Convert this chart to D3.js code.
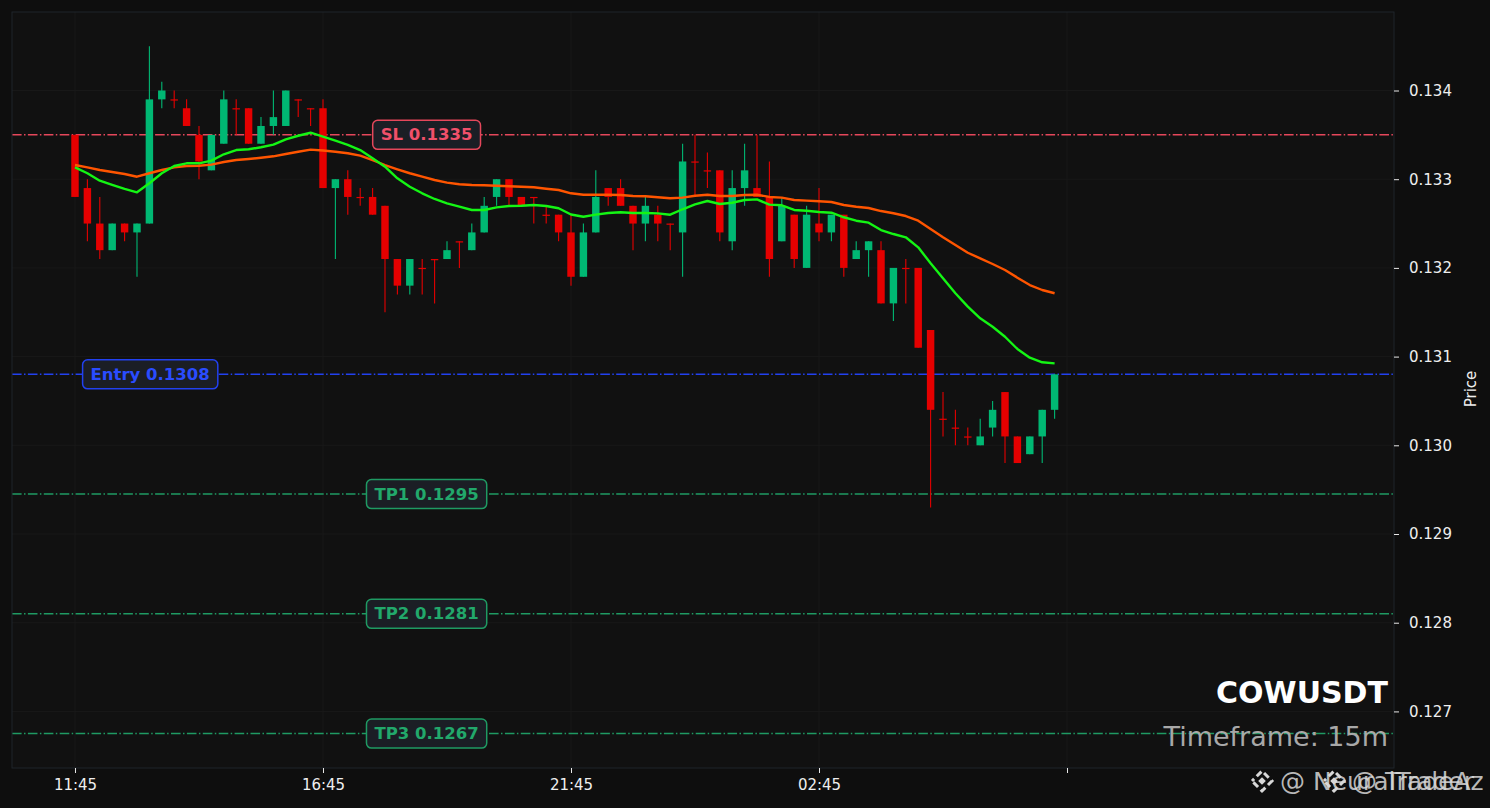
<!DOCTYPE html>
<html><head><meta charset="utf-8">
<script src="https://cdn.jsdelivr.net/npm/d3@7"></script>
<style>html,body{margin:0;padding:0;background:#0e0e0e;overflow:hidden}</style>
</head><body><svg id="c" width="1490" height="808"></svg>
<script>
// ---- data ----
const opens  = [0.1335,0.1329,0.1325,0.1322,0.1325,0.1324,0.1325,0.1339,0.1339,0.1338,0.1335,0.1331,0.1334,0.1338,0.1338,0.1334,0.1336,0.1336,0.1339,0.1338,
                0.1338,0.1329,0.1330,0.1328,0.1328,0.1327,0.1321,0.1318,0.1320,0.1321,0.1321,0.1323,0.1322,0.1324,0.1328,0.1330,0.1328,0.1328,0.1326,0.1326,
                0.1324,0.1319,0.1324,0.1329,0.1329,0.1327,0.1325,0.1326,0.1325,0.1324,0.1332,0.1331,0.1331,0.1323,0.1329,0.1329,0.1328,0.1323,0.1326,0.1320,
                0.1325,0.1324,0.1326,0.1321,0.1322,0.1322,0.1316,0.1320,0.1320,0.1313,0.1303,0.1302,0.1301,0.1300,0.1302,0.1306,0.1301,0.1299,0.1301,0.1304];
const highs  = [0.1335,0.1330,0.1328,0.1325,0.1325,0.1325,0.1345,0.1341,0.1340,0.1339,0.1336,0.1335,0.1340,0.1339,0.1338,0.1337,0.1340,0.1340,0.1339,0.1338,
                0.1339,0.1330,0.1331,0.1329,0.1329,0.1327,0.1321,0.1321,0.1321,0.1321,0.1323,0.1323,0.1325,0.1328,0.1330,0.1330,0.1328,0.1328,0.1327,0.1326,
                0.1326,0.1325,0.1331,0.1329,0.1330,0.1327,0.1328,0.1327,0.1325,0.1334,0.1335,0.1333,0.1331,0.1331,0.1334,0.1335,0.1332,0.1328,0.1326,0.1327,
                0.1329,0.1326,0.1326,0.1323,0.1323,0.1323,0.1320,0.1321,0.1320,0.1313,0.1306,0.1304,0.1302,0.1303,0.1305,0.1306,0.1301,0.1301,0.1304,0.1308];
const lows   = [0.1328,0.1323,0.1321,0.1322,0.1323,0.1319,0.1325,0.1338,0.1338,0.1336,0.1330,0.1331,0.1334,0.1335,0.1334,0.1334,0.1335,0.1336,0.1337,0.1336,
                0.1329,0.1321,0.1326,0.1327,0.1326,0.1315,0.1317,0.1317,0.1317,0.1316,0.1321,0.1320,0.1322,0.1324,0.1327,0.1327,0.1327,0.1325,0.1325,0.1323,
                0.1318,0.1319,0.1324,0.1327,0.1327,0.1322,0.1323,0.1323,0.1322,0.1319,0.1328,0.1329,0.1323,0.1322,0.1327,0.1328,0.1319,0.1323,0.1320,0.1320,
                0.1323,0.1323,0.1319,0.1321,0.1319,0.1316,0.1314,0.1316,0.1311,0.1293,0.1301,0.1300,0.1300,0.1300,0.1301,0.1298,0.1298,0.1299,0.1298,0.1303];
const closes = [0.1328,0.1325,0.1322,0.1325,0.1324,0.1325,0.1339,0.1340,0.1339,0.1336,0.1332,0.1335,0.1339,0.1338,0.1334,0.1336,0.1337,0.1340,0.1339,0.1338,
                0.1329,0.1330,0.1328,0.1328,0.1326,0.1321,0.1318,0.1321,0.1320,0.1321,0.1322,0.1323,0.1324,0.1327,0.1330,0.1328,0.1327,0.1328,0.1326,0.1324,
                0.1319,0.1324,0.1328,0.1328,0.1327,0.1325,0.1327,0.1325,0.1325,0.1332,0.1332,0.1331,0.1324,0.1329,0.1331,0.1328,0.1321,0.1327,0.1321,0.1326,
                0.1324,0.1326,0.1320,0.1322,0.1323,0.1316,0.1320,0.1320,0.1311,0.1304,0.1303,0.1302,0.1301,0.1301,0.1304,0.1301,0.1298,0.1301,0.1304,0.1308];
const emaFast = [0.133134,0.133067,0.132983,0.132935,0.132890,0.132852,0.132954,0.133067,0.133149,0.133179,0.133179,0.133209,0.133281,0.133329,0.133337,0.133360,0.133389,0.133450,0.133490,0.133524,
                 0.133479,0.133434,0.133386,0.133329,0.133236,0.133141,0.133010,0.132915,0.132841,0.132777,0.132728,0.132690,0.132653,0.132653,0.132683,0.132698,0.132701,0.132709,0.132698,0.132672,
                 0.132602,0.132577,0.132600,0.132619,0.132627,0.132619,0.132619,0.132615,0.132600,0.132661,0.132717,0.132754,0.132720,0.132735,0.132766,0.132773,0.132713,0.132706,0.132653,0.132645,
                 0.132630,0.132622,0.132571,0.132532,0.132510,0.132427,0.132382,0.132345,0.132232,0.132052,0.131883,0.131714,0.131563,0.131432,0.131337,0.131224,0.131086,0.130988,0.130936,0.130924];
const emaSlow = [0.133160,0.133134,0.133104,0.133081,0.133059,0.133028,0.133067,0.133104,0.133134,0.133149,0.133152,0.133164,0.133194,0.133216,0.133228,0.133242,0.133258,0.133284,0.133310,0.133333,
                 0.133324,0.133310,0.133292,0.133265,0.133216,0.133160,0.133112,0.133067,0.133028,0.132991,0.132961,0.132943,0.132935,0.132931,0.132927,0.132920,0.132915,0.132909,0.132893,0.132878,
                 0.132841,0.132825,0.132825,0.132825,0.132822,0.132811,0.132807,0.132796,0.132785,0.132792,0.132814,0.132825,0.132811,0.132811,0.132822,0.132825,0.132800,0.132792,0.132766,0.132758,
                 0.132751,0.132743,0.132709,0.132690,0.132675,0.132641,0.132616,0.132585,0.132532,0.132439,0.132345,0.132258,0.132171,0.132108,0.132044,0.131976,0.131890,0.131807,0.131751,0.131714];
const xTickIdx    = [0, 20, 40, 60, 80];
const xTickLabels = ["11:45", "16:45", "21:45", "02:45", ""];
const yTicks      = [0.127, 0.128, 0.129, 0.130, 0.131, 0.132, 0.133, 0.134];
const levelValues = [0.1335, 0.1308, 0.12945, 0.1281, 0.12675];
const levelLabels = ["SL 0.1335", "Entry 0.1308", "TP1 0.1295", "TP2 0.1281", "TP3 0.1267"];
const levelColors = ["#e5475b", "#2241f0", "#1f9a63", "#1f9a63", "#1f9a63"];
const levelTextColors = ["#f0506a", "#2a4cff", "#22a86b", "#22a86b", "#22a86b"];
const levelLabelPos = [0.30, 0.10, 0.30, 0.30, 0.30];
const symbolText = "COWUSDT";
const timeframeText = "Timeframe: 15m";
const watermarks = ["@ NeuralTrader", "@ TradeAz"];

// ---- layout ----
const W = 1490, H = 808;
const L = 12, R = 1394, T = 12, B = 768;
const svg = d3.select("#c");
svg.append("rect").attr("width", W).attr("height", H).attr("fill", "#0e0e0e");
svg.append("rect").attr("x", L).attr("y", T).attr("width", R - L).attr("height", B - T).attr("fill", "#111111");

const x = d3.scaleLinear().domain([-5.08, 106.37]).range([L, R]);
const y = d3.scaleLinear().domain([0.126362, 0.134885]).range([B, T]);
const font = "DejaVu Sans";

// grid
const grid = svg.append("g");
grid.selectAll("line.h").data(yTicks).join("line")
  .attr("x1", L).attr("x2", R).attr("y1", d => y(d)).attr("y2", d => y(d))
  .attr("stroke", "#1b1b1b").attr("stroke-width", 0.8);
grid.selectAll("line.v").data(xTickIdx).join("line")
  .attr("y1", T).attr("y2", B).attr("x1", d => x(d)).attr("x2", d => x(d))
  .attr("stroke", "#1b1b1b").attr("stroke-width", 0.8);

// level lines
const dash = "9.6,2.4,1.5,2.4";
svg.append("g").selectAll("line").data(levelValues).join("line")
  .attr("x1", L).attr("x2", R).attr("y1", d => y(d)).attr("y2", d => y(d))
  .attr("stroke", (d, i) => levelColors[i]).attr("stroke-width", 1.5)
  .attr("stroke-dasharray", dash);

// candles
const idx = d3.range(closes.length);
const bw = (x(1) - x(0)) * 0.6;
const up = "#00b873", dn = "#e50000";
const col = i => closes[i] > opens[i] ? up : dn;
const cg = svg.append("g");
cg.selectAll("line").data(idx).join("line")
  .attr("x1", i => x(i)).attr("x2", i => x(i))
  .attr("y1", i => y(highs[i])).attr("y2", i => y(lows[i]))
  .attr("stroke", col).attr("stroke-width", 1.1);
cg.selectAll("rect").data(idx).join("rect")
  .attr("x", i => x(i) - bw / 2).attr("width", bw)
  .attr("y", i => y(Math.max(opens[i], closes[i])))
  .attr("height", i => Math.max(1.2, Math.abs(y(opens[i]) - y(closes[i]))))
  .attr("fill", col);

// EMAs
const line = arr => d3.line().x((d, i) => x(i)).y(d => y(d))(arr);
svg.append("path").attr("d", line(emaSlow)).attr("fill", "none").attr("stroke", "#ff5500").attr("stroke-width", 2.4).attr("stroke-linejoin", "round");
svg.append("path").attr("d", line(emaFast)).attr("fill", "none").attr("stroke", "#14f514").attr("stroke-width", 2.4).attr("stroke-linejoin", "round");

// level labels
levelValues.forEach((v, i) => {
  const g = svg.append("g");
  const cx = L + (R - L) * levelLabelPos[i];
  const cy = y(v);
  const t = g.append("text").attr("x", cx).attr("y", cy).attr("text-anchor", "middle")
    .attr("dominant-baseline", "central").attr("font-family", font).attr("font-weight", "bold")
    .attr("font-size", 16.5).attr("fill", levelTextColors[i]).text(levelLabels[i]);
  const w = t.node().getComputedTextLength();
  g.insert("rect", "text").attr("x", cx - w / 2 - 8).attr("y", cy - 14.5).attr("width", w + 16).attr("height", 29)
    .attr("rx", 5).attr("fill", "#1b1e25").attr("stroke", levelColors[i]).attr("stroke-width", 1.5);
});

// border
svg.append("rect").attr("x", L).attr("y", T).attr("width", R - L).attr("height", B - T)
  .attr("fill", "none").attr("stroke", "#1f242b").attr("stroke-width", 1);

// axes
const yAxis = svg.append("g").attr("transform", `translate(${R},0)`)
  .call(d3.axisRight(y).tickValues(yTicks).tickFormat(d3.format(".3f")).tickSize(5).tickPadding(10));
const xAxis = svg.append("g").attr("transform", `translate(0,${B})`)
  .call(d3.axisBottom(x).tickValues(xTickIdx).tickFormat((d, i) => xTickLabels[i]).tickSize(5).tickPadding(6));
[yAxis, xAxis].forEach(a => {
  a.select(".domain").remove();
  a.selectAll("line").attr("stroke", "#e8e8e8");
  a.selectAll("text").attr("fill", "#eeeeee").attr("font-family", font).attr("font-size", 15);
});

svg.append("text").attr("transform", `translate(1476,389) rotate(-90)`).attr("text-anchor", "middle")
  .attr("font-family", font).attr("font-size", 15).attr("fill", "#eeeeee").text("Price");

// symbol / timeframe
svg.append("text").attr("x", 1388).attr("y", 703).attr("text-anchor", "end")
  .attr("font-family", font).attr("font-weight", "bold").attr("font-size", 30).attr("fill", "#ffffff").text(symbolText);
svg.append("text").attr("x", 1388).attr("y", 746).attr("text-anchor", "end")
  .attr("font-family", font).attr("font-size", 27).attr("fill", "#a8a8a8").text(timeframeText);

// watermarks (diamond logo + handle)
function logo(cx, cy, s) {
  const g = svg.append("g").attr("transform", `translate(${cx},${cy})`);
  const r = s / 2, c = s * 0.16, gap = s * 0.1;
  // outer chevrons (diamond outline broken at the four corners' sides)
  g.append("path").attr("fill", "none").attr("stroke", "#d8d8d8").attr("stroke-width", 3).attr("stroke-linejoin", "miter")
    .attr("d", `M${-r + 2},0L0,${-r + 2}L${r - 2},0L0,${r - 2}Z`)
    .attr("stroke-dasharray", `${r * 0.55},${r * 0.31}`).attr("stroke-dashoffset", r * 0.3);
  g.append("path").attr("fill", "#d8d8d8").attr("d", `M0,${-c}L${c},0L0,${c}L${-c},0Z`);
}
const wmX = [1262, 1334];
watermarks.forEach((t, i) => {
  logo(wmX[i], 781, 24);
  svg.append("text").attr("x", wmX[i] + 18).attr("y", 790).attr("font-family", font).attr("font-size", 25)
    .attr("fill", "#d8d8d8").attr("fill-opacity", 0.85).text(t);
});
</script></body></html>
